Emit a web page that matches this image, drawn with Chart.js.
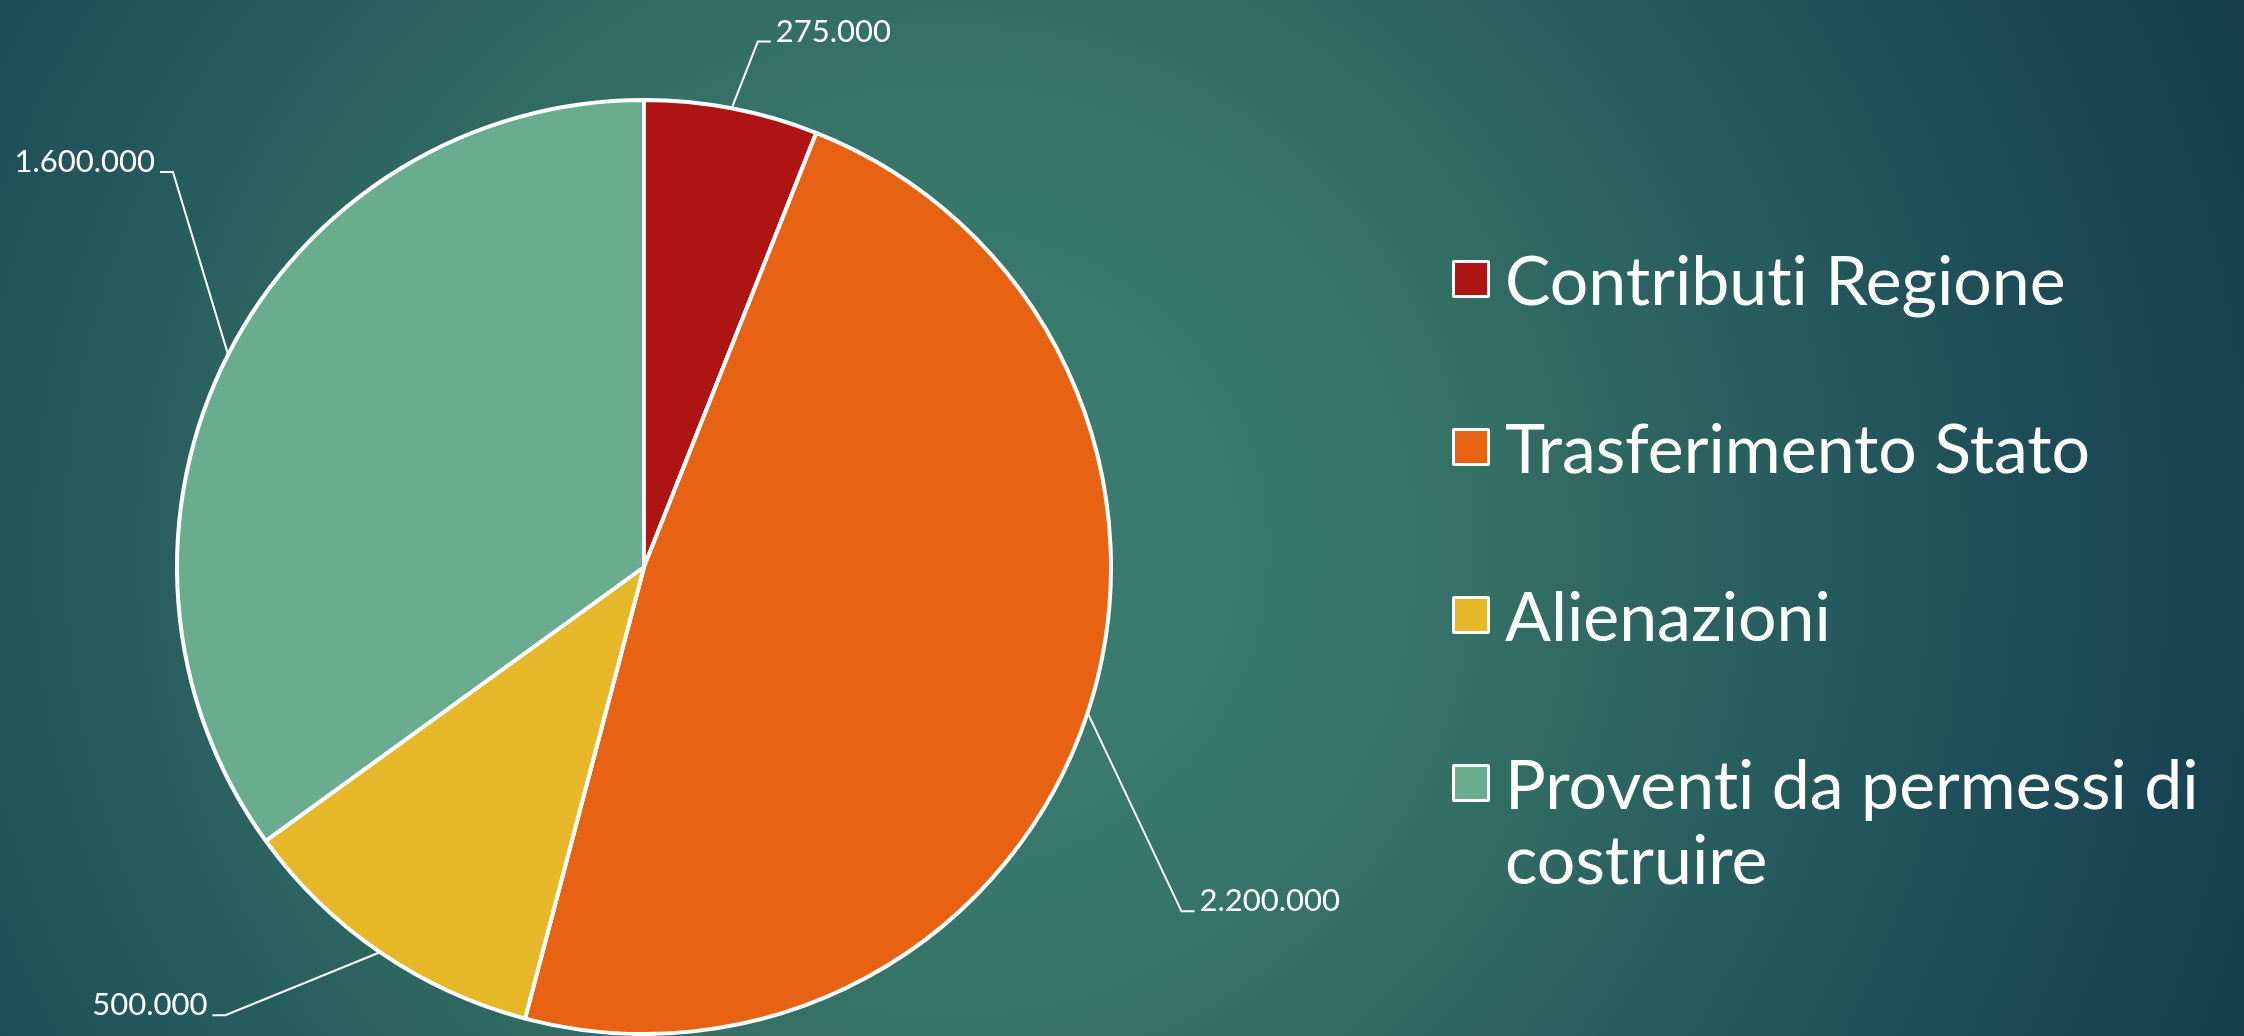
<!DOCTYPE html>
<html lang="it">
<head>
<meta charset="utf-8">
<title>Entrate</title>
<script src="https://cdn.jsdelivr.net/npm/chart.js@4.4.1/dist/chart.umd.min.js"></script>
<style>
  html, body {
    margin: 0;
    padding: 0;
    width: 2244px;
    height: 1036px;
    overflow: hidden;
  }
  body {
    position: relative;
    font-family: Lato, "Open Sans", sans-serif;
    font-variant-ligatures: none;
    color: #fff;
    background: radial-gradient(circle farthest-corner at 950px 550px,
      #3e7e72 0%, #3a7a6e 18%, #347065 38%, #1e4d58 77%, #153d4c 100%);
  }
  #pie-wrap {
    position: absolute;
    left: 0;
    top: 0;
    width: 1420px;
    height: 1036px;
  }
  #legend {
    position: absolute;
    left: 1452px;
    top: 241px;
    margin: 0;
    padding: 0;
    list-style: none;
  }
  #legend li {
    display: flex;
    align-items: flex-start;
    margin-bottom: 93px;
    font-size: 68px;
    line-height: 75px;
  }
  #legend .box {
    flex: none;
    width: 32px;
    height: 32px;
    border: 3px solid #fff;
    margin-top: 19px;
    margin-right: 15px;
    border-radius: 2px;
  }
  #legend .txt {
    width: 740px;
  }
</style>
</head>
<body>
<div id="pie-wrap"><canvas id="pie" width="1420" height="1036"></canvas></div>
<ul id="legend"></ul>
<script>
const categories = [
  "Contributi Regione",
  "Trasferimento Stato",
  "Alienazioni",
  "Proventi da permessi di costruire",
];
const values = [275000, 2200000, 500000, 1600000];
const colors = ["#ae1414", "#e86214", "#e5b729", "#6aac90"];

// where each leader line bends, as a fraction of the radius from the slice edge
const labelNudge = [
  [0.056, -0.143],
  [0.201, 0.425],
  [-0.331, 0.135],
  [-0.118, -0.391],
];

function formatIt(v) {
  return String(v).replace(/\B(?=(\d{3})+(?!\d))/g, ".");
}

const leaderLabels = {
  id: "leaderLabels",
  afterDatasetsDraw(chart) {
    const ctx = chart.ctx;
    const meta = chart.getDatasetMeta(0);
    ctx.save();
    ctx.strokeStyle = "#ffffff";
    ctx.fillStyle = "#ffffff";
    ctx.lineWidth = 2;
    ctx.font = '31px Lato, "Open Sans", sans-serif';
    ctx.textBaseline = "alphabetic";
    meta.data.forEach((arc, i) => {
      const p = arc.getProps(["x", "y", "startAngle", "endAngle", "outerRadius"], true);
      const mid = (p.startAngle + p.endAngle) / 2;
      const ex = p.x + Math.cos(mid) * p.outerRadius;
      const ey = p.y + Math.sin(mid) * p.outerRadius;
      const bx = ex + labelNudge[i][0] * p.outerRadius;
      const by = ey + labelNudge[i][1] * p.outerRadius;
      const right = bx >= ex;
      const hx = bx + (right ? 13 : -13);
      ctx.beginPath();
      ctx.moveTo(ex, ey);
      ctx.lineTo(bx, by);
      ctx.lineTo(hx, by);
      ctx.stroke();
      ctx.textAlign = right ? "left" : "right";
      ctx.fillText(formatIt(values[i]), hx + (right ? 5 : -5), by);
    });
    ctx.restore();
  },
};

new Chart(document.getElementById("pie"), {
  type: "pie",
  data: {
    labels: categories,
    datasets: [
      {
        data: values,
        backgroundColor: colors,
        borderColor: "#ffffff",
        borderWidth: 4,
      },
    ],
  },
  options: {
    responsive: false,
    animation: false,
    radius: 467,
    layout: { padding: { top: 98, bottom: 0, left: 0, right: 132 } },
    plugins: {
      legend: { display: false },
      tooltip: { enabled: false },
    },
  },
  plugins: [leaderLabels],
});

const legend = document.getElementById("legend");
categories.forEach((c, i) => {
  const li = document.createElement("li");
  li.innerHTML = `<span class="box" style="background:${colors[i]}"></span><span class="txt">${c}</span>`;
  legend.appendChild(li);
});
</script>
</body>
</html>
